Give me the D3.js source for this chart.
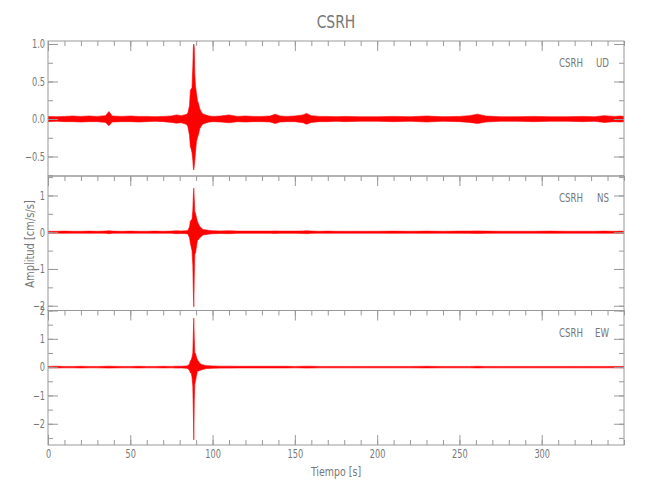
<!DOCTYPE html>
<html>
<head>
<meta charset="utf-8">
<script src="https://cdn.jsdelivr.net/npm/d3@7"></script>
<style>
  html, body { margin: 0; padding: 0; background: #fff; }
  svg { display: block; }
  text { font-family: "DejaVu Sans Condensed", "Liberation Sans", sans-serif; fill: #777; }
</style>
</head>
<body>
<svg id="chart" width="650" height="500"></svg>
<script>
// ---- Data (envelope of each trace) ----
const times = [
  0, 5, 10, 15, 20, 25, 30, 35, 37, 39,
  45, 50, 55, 60, 65, 70, 75, 78, 81, 84,
  85, 86, 86.5, 87, 87.5, 88, 88.3, 88.6, 88.9, 89.2,
  89.6, 90.2, 90.8, 91.5, 92.2, 93, 94, 95, 96.5, 98,
  100, 105, 110, 115, 120, 125, 130, 135, 138, 141,
  145, 150, 155, 157, 160, 165, 170, 175, 180, 190,
  200, 210, 220, 230, 240, 250, 256, 261, 266, 275,
  285, 295, 305, 315, 325, 332, 338, 344, 348, 350
];
const udUpper = [
  .035, .03, .035, .04, .035, .04, .035, .045, .10, .04,
  .035, .04, .035, .035, .03, .035, .04, .055, .045, .06,
  .08, .18, .38, .40, .42, .70, .95, 1.0, .95, .60,
  .45, .34, .25, .20, .14, .10, .07, .06, .05, .04,
  .035, .04, .055, .035, .04, .035, .035, .04, .065, .04,
  .035, .04, .055, .075, .045, .035, .035, .03, .035, .03,
  .03, .035, .03, .04, .03, .035, .045, .065, .04, .03,
  .03, .035, .03, .03, .035, .03, .045, .035, .04, .035
];
const udLower = [
  -.035, -.03, -.035, -.035, -.04, -.035, -.035, -.045, -.09, -.04,
  -.035, -.035, -.04, -.035, -.03, -.035, -.045, -.055, -.05, -.07,
  -.10, -.22, -.37, -.40, -.45, -.55, -.65, -.68, -.62, -.55,
  -.45, -.30, -.25, -.20, -.13, -.10, -.07, -.06, -.05, -.04,
  -.035, -.04, -.05, -.035, -.04, -.035, -.035, -.04, -.06, -.04,
  -.035, -.035, -.05, -.07, -.045, -.035, -.035, -.03, -.035, -.03,
  -.03, -.035, -.03, -.04, -.03, -.035, -.045, -.06, -.04, -.03,
  -.03, -.035, -.03, -.03, -.035, -.03, -.045, -.035, -.04, -.035
];
const nsUpper = [
  .025, .025, .03, .025, .025, .03, .025, .03, .04, .03,
  .025, .03, .025, .025, .03, .025, .03, .04, .035, .04,
  .05, .15, .30, .33, .35, .60, 1.0, 1.2, .90, .55,
  .52, .40, .29, .22, .16, .12, .08, .07, .06, .05,
  .04, .035, .04, .03, .03, .03, .03, .03, .035, .03,
  .03, .03, .035, .04, .03, .025, .03, .025, .025, .025,
  .025, .03, .025, .03, .025, .03, .03, .035, .03, .025,
  .025, .025, .03, .025, .025, .025, .03, .025, .03, .025
];
const nsLower = [
  -.025, -.025, -.03, -.025, -.025, -.03, -.025, -.03, -.04, -.03,
  -.025, -.03, -.025, -.025, -.03, -.025, -.03, -.04, -.035, -.04,
  -.05, -.15, -.30, -.40, -.50, -.90, -1.6, -2.03, -1.2, -.60,
  -.57, -.40, -.22, -.20, -.15, -.12, -.08, -.07, -.06, -.05,
  -.04, -.035, -.04, -.03, -.03, -.03, -.03, -.03, -.035, -.03,
  -.03, -.03, -.035, -.04, -.03, -.025, -.03, -.025, -.025, -.025,
  -.025, -.03, -.025, -.03, -.025, -.03, -.03, -.035, -.03, -.025,
  -.025, -.025, -.03, -.025, -.025, -.025, -.03, -.025, -.03, -.025
];
const ewUpper = [
  .025, .03, .025, .025, .03, .025, .025, .03, .035, .03,
  .025, .025, .03, .025, .025, .03, .025, .035, .03, .04,
  .05, .12, .22, .26, .35, .50, 1.2, 1.73, 1.0, .50,
  .49, .35, .26, .20, .14, .10, .08, .07, .05, .045,
  .04, .035, .035, .03, .03, .03, .03, .03, .03, .03,
  .03, .025, .03, .035, .03, .025, .025, .025, .025, .025,
  .025, .025, .025, .03, .025, .025, .025, .03, .025, .025,
  .025, .025, .025, .025, .025, .025, .025, .025, .025, .025
];
const ewLower = [
  -.025, -.03, -.025, -.025, -.03, -.025, -.025, -.03, -.035, -.03,
  -.025, -.025, -.03, -.025, -.025, -.03, -.025, -.035, -.03, -.04,
  -.05, -.12, -.20, -.21, -.35, -.68, -1.6, -2.57, -1.2, -.60,
  -.50, -.30, -.14, -.14, -.12, -.10, -.08, -.07, -.05, -.045,
  -.04, -.035, -.035, -.03, -.03, -.03, -.03, -.03, -.03, -.03,
  -.03, -.025, -.03, -.035, -.03, -.025, -.025, -.025, -.025, -.025,
  -.025, -.025, -.025, -.03, -.025, -.025, -.025, -.03, -.025, -.025,
  -.025, -.025, -.025, -.025, -.025, -.025, -.025, -.025, -.025, -.025
];

const stationName = "CSRH";
const components = ["UD", "NS", "EW"];
const yDomains = [[-0.76, 1.04], [-2.13, 1.53], [-2.75, 2.0]];
const yMajorTicks = [[-0.5, 0, 0.5, 1.0], [-2, -1, 0, 1], [-2, -1, 0, 1, 2]];
const yTickLabels = [["\u22120.5", "0.0", "0.5", "1.0"], ["\u22122", "\u22121", "0", "1"], ["\u22122", "\u22121", "0", "1", "2"]];
const yMinorTicks = [
  [-0.75, -0.5, -0.25, 0, 0.25, 0.5, 0.75, 1.0],
  [-2, -1.5, -1, -0.5, 0, 0.5, 1, 1.5],
  [-2.5, -2, -1.5, -1, -0.5, 0, 0.5, 1, 1.5, 2]
];
const xMajorTicks = [0, 50, 100, 150, 200, 250, 300];
const xTickLabels = ["0", "50", "100", "150", "200", "250", "300"];
const xMinorTicks = d3.range(0, 351, 10);
const xDomain = [0, 350];
const upperSeries = [udUpper, nsUpper, ewUpper];
const lowerSeries = [udLower, nsLower, ewLower];

// ---- Layout ----
const svg = d3.select("#chart");
const left = 48, right = 624;
const panelTops = [41, 176, 310.5];
const panelBottoms = [176, 310.5, 445];
const axisColor = "#999";
const traceColor = "#ff0000";

const x = d3.scaleLinear().domain(xDomain).range([left, right]);

// horizontally condense a text (narrow plotter-like font)
function condense(sel, factor) {
  sel.each(function () {
    const w = this.getComputedTextLength();
    if (w > 0) d3.select(this).attr("textLength", w * factor).attr("lengthAdjust", "spacingAndGlyphs");
  });
}

svg.append("text").attr("x", 336).attr("y", 28).attr("text-anchor", "middle")
  .style("font-size", "18px").text(stationName).call(condense, 0.86);

function styleAxis(g) {
  g.select(".domain").remove();
  g.selectAll(".tick line").attr("stroke", axisColor);
  g.selectAll(".tick text").attr("fill", "#777").style("font-size", "12px").call(condense, 0.76);
}

components.forEach((comp, i) => {
  const top = panelTops[i], bottom = panelBottoms[i];
  const y = d3.scaleLinear().domain(yDomains[i]).range([bottom, top]);
  const g = svg.append("g");

  const clipId = "clip" + i;
  svg.append("clipPath").attr("id", clipId).append("rect")
    .attr("x", left).attr("y", top).attr("width", right - left).attr("height", bottom - top);

  // trace envelope
  const data = times.map((t, k) => ({ t, hi: upperSeries[i][k], lo: lowerSeries[i][k] }));
  g.append("path").datum(data)
    .attr("clip-path", `url(#${clipId})`)
    .attr("fill", traceColor)
    .attr("stroke", traceColor)
    .attr("stroke-width", 0.6)
    .attr("d", d3.area().x(d => x(d.t)).y0(d => y(d.lo)).y1(d => y(d.hi)));

  // frame
  g.append("rect").attr("x", left).attr("y", top).attr("width", right - left).attr("height", bottom - top)
    .attr("fill", "none").attr("stroke", axisColor).attr("stroke-width", 1);

  // left axis
  g.append("g").attr("transform", `translate(${left},0)`)
    .call(d3.axisLeft(y).tickValues(yMinorTicks[i]).tickSize(-5).tickFormat(""))
    .call(styleAxis);
  g.append("g").attr("transform", `translate(${left},0)`)
    .call(d3.axisLeft(y).tickValues(yMajorTicks[i]).tickSize(-10).tickPadding(3)
      .tickFormat((d, k) => yTickLabels[i][k]))
    .call(styleAxis);
  // right axis
  g.append("g").attr("transform", `translate(${right},0)`)
    .call(d3.axisRight(y).tickValues(yMinorTicks[i]).tickSize(-5).tickFormat(""))
    .call(styleAxis);
  g.append("g").attr("transform", `translate(${right},0)`)
    .call(d3.axisRight(y).tickValues(yMajorTicks[i]).tickSize(-10).tickFormat(""))
    .call(styleAxis);
  // top ticks (inward)
  g.append("g").attr("transform", `translate(0,${top})`)
    .call(d3.axisTop(x).tickValues(xMinorTicks).tickSize(-5).tickFormat(""))
    .call(styleAxis);
  g.append("g").attr("transform", `translate(0,${top})`)
    .call(d3.axisTop(x).tickValues(xMajorTicks).tickSize(-10).tickFormat(""))
    .call(styleAxis);

  // component label
  g.append("text").attr("x", 559).attr("y", top + 26).style("font-size", "12.5px")
    .text(stationName).call(condense, 0.77);
  g.append("text").attr("x", 609).attr("y", top + 26).attr("text-anchor", "end").style("font-size", "12.5px")
    .text(comp).call(condense, 0.77);

  if (i === components.length - 1) {
    g.append("g").attr("transform", `translate(0,${bottom})`)
      .call(d3.axisBottom(x).tickValues(xMinorTicks).tickSize(-5).tickFormat(""))
      .call(styleAxis);
    g.append("g").attr("transform", `translate(0,${bottom})`)
      .call(d3.axisBottom(x).tickValues(xMajorTicks).tickSize(-10).tickPadding(4)
        .tickFormat((d, k) => xTickLabels[k]))
      .call(styleAxis);
  }
});

svg.append("text").attr("transform", "translate(34,244) rotate(-90)").attr("text-anchor", "middle")
  .style("font-size", "12.5px").text("Amplitud [cm/s/s]").call(condense, 0.88);
svg.append("text").attr("x", 336).attr("y", 476).attr("text-anchor", "middle")
  .style("font-size", "12.5px").text("Tiempo [s]").call(condense, 0.84);
</script>
</body>
</html>
